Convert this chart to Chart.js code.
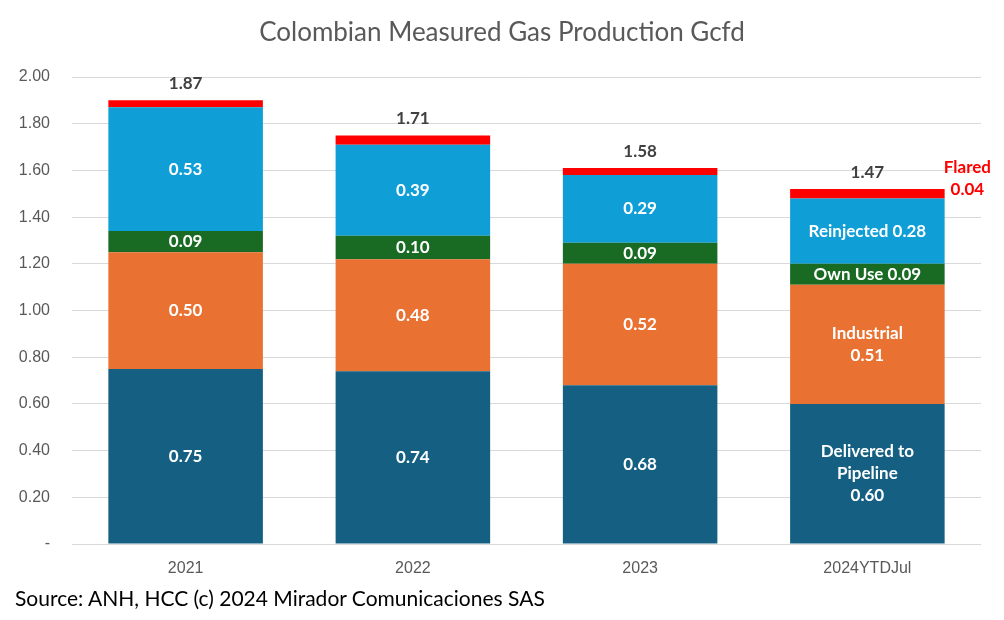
<!DOCTYPE html>
<html>
<head>
<meta charset="utf-8">
<script src="https://cdn.jsdelivr.net/npm/chart.js@4.4.1/dist/chart.umd.min.js"></script>
<style>
  html, body { margin: 0; padding: 0; background: #ffffff; }
  #wrap { position: relative; width: 1004px; height: 620px; }
  #source {
    position: absolute; left: 15px; top: 585px;
    font-family: Lato, "Open Sans", sans-serif; font-size: 21px; color: #000;
  }
</style>
</head>
<body>
<div id="wrap">
  <canvas id="gasChart" width="1004" height="620"></canvas>
  <div id="source">Source: ANH, HCC (c) 2024 Mirador Comunicaciones SAS</div>
</div>
<script>
// Colombian measured gas production, Gcfd
const years = ['2021', '2022', '2023', '2024YTDJul'];
const delivered = [0.75, 0.74, 0.68, 0.60];
const industrial = [0.50, 0.48, 0.52, 0.51];
const ownUse = [0.09, 0.10, 0.09, 0.09];
const reinjected = [0.53, 0.39, 0.29, 0.28];
const flared = [0.03, 0.04, 0.03, 0.04];
const totals = [1.87, 1.71, 1.58, 1.47];
const yTicks = [0, 0.2, 0.4, 0.6, 0.8, 1.0, 1.2, 1.4, 1.6, 1.8, 2.0];

// names shown inside the last bar
const segNames = [['Delivered to', 'Pipeline'], ['Industrial'], ['Own Use'], ['Reinjected'], ['Flared']];

const labelPlugin = {
    id: 'labelPlugin',
    afterDatasetsDraw(chart) {
        const ctx = chart.ctx;
        const last = years.length - 1;
        ctx.save();
        ctx.textAlign = 'center';
        ctx.textBaseline = 'middle';

        // title
        ctx.fillStyle = '#595959';
        ctx.font = '26px Lato, "Open Sans", sans-serif';
        ctx.fillText('Colombian Measured Gas Production Gcfd', 502, 33);

        ctx.font = 'bold 17px Lato, "Open Sans", sans-serif';
        for (let d = 0; d < 4; d++) {
            const meta = chart.getDatasetMeta(d);
            const vals = chart.data.datasets[d].data;
            meta.data.forEach((bar, i) => {
                const cy = (bar.y + bar.base) / 2;
                const txt = vals[i].toFixed(2);
                ctx.fillStyle = '#ffffff';
                if (i < last) {
                    ctx.fillText(txt, bar.x, cy);
                } else if (d === 0) {
                    ctx.fillText(segNames[0][0], bar.x, cy - 22);
                    ctx.fillText(segNames[0][1], bar.x, cy);
                    ctx.fillText(txt, bar.x, cy + 22);
                } else if (d === 1) {
                    ctx.fillText(segNames[1][0], bar.x, cy - 11);
                    ctx.fillText(txt, bar.x, cy + 11);
                } else {
                    ctx.fillText(segNames[d][0] + ' ' + txt, bar.x, cy);
                }
            });
        }

        // totals above the bars
        const topMeta = chart.getDatasetMeta(4);
        ctx.fillStyle = '#404040';
        topMeta.data.forEach((bar, i) => {
            ctx.fillText(totals[i].toFixed(2), bar.x, bar.y - 17);
        });

        // flared callout
        const fb = topMeta.data[last];
        ctx.fillStyle = '#ff0000';
        ctx.fillText(segNames[4][0], fb.x + 100, fb.y - 22);
        ctx.fillText(flared[last].toFixed(2), fb.x + 100, fb.y);
        ctx.restore();
    }
};

const gasCtx = document.getElementById('gasChart').getContext('2d');
const gasChart = new Chart(gasCtx, {
    type: 'bar',
    data: {
        labels: years,
        datasets: [
            { label: 'Delivered to Pipeline', data: delivered, backgroundColor: '#156082' },
            { label: 'Industrial', data: industrial, backgroundColor: '#E97132' },
            { label: 'Own Use', data: ownUse, backgroundColor: '#196B24' },
            { label: 'Reinjected', data: reinjected, backgroundColor: '#0F9ED5' },
            { label: 'Flared', data: flared, backgroundColor: '#FF0000' }
        ]
    },
    options: {
        responsive: false,
        animation: false,
        layout: { padding: { top: 77, right: 23, bottom: 36, left: 0 } },
        datasets: { bar: { categoryPercentage: 1.0, barPercentage: 0.68, borderWidth: 0 } },
        plugins: {
            legend: { display: false },
            title: { display: false },
            tooltip: { enabled: false }
        },
        scales: {
            x: {
                stacked: true,
                grid: { display: false, drawTicks: false },
                border: { display: false },
                afterFit(scale) { scale.height = 40; },
                ticks: {
                    padding: 15,
                    color: '#595959',
                    font: { family: '"Liberation Sans", Arial, sans-serif', size: 16 }
                }
            },
            y: {
                stacked: true,
                min: 0,
                max: 2,
                afterFit(scale) { scale.width = 72; },
                afterBuildTicks(scale) { scale.ticks = yTicks.map(v => ({ value: v })); },
                grid: { color: '#d9d9d9', lineWidth: 1, drawTicks: false },
                border: { display: false },
                ticks: {
                    padding: 22,
                    color: '#595959',
                    font: { family: '"Liberation Sans", Arial, sans-serif', size: 16 },
                    callback: v => v === 0 ? '-' : v.toFixed(2)
                }
            }
        }
    },
    plugins: [labelPlugin]
});
</script>
</body>
</html>
